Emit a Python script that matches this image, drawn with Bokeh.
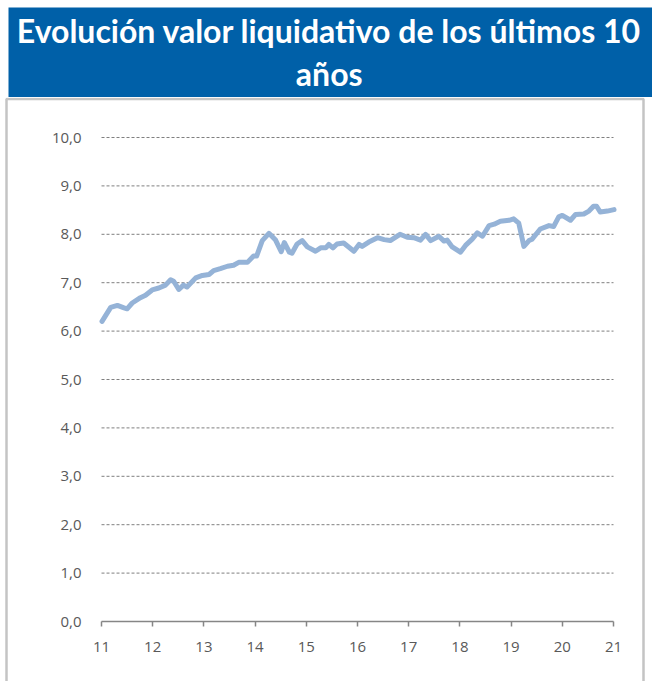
from bokeh.plotting import figure
from bokeh.layouts import column
from bokeh.models import FixedTicker, Range1d, BoxAnnotation
from bokeh.core.properties import value
from bokeh.embed import file_html
from bokeh.resources import INLINE

title_lines = ["Evolución valor liquidativo de los últimos 10", "años"]

years = [11.01, 11.18, 11.31, 11.44, 11.50, 11.60, 11.76, 11.86, 11.99, 12.12,
         12.25, 12.35, 12.41, 12.51, 12.60, 12.67, 12.84, 12.97, 13.10, 13.19,
         13.32, 13.46, 13.58, 13.68, 13.85, 13.97, 14.03, 14.14, 14.27, 14.40,
         14.51, 14.57, 14.67, 14.72, 14.82, 14.92, 15.02, 15.18, 15.28, 15.38,
         15.44, 15.52, 15.60, 15.73, 15.93, 16.03, 16.09, 16.22, 16.39, 16.52,
         16.64, 16.83, 16.97, 17.10, 17.23, 17.33, 17.43, 17.59, 17.69, 17.75,
         17.85, 18.01, 18.11, 18.24, 18.34, 18.44, 18.57, 18.67, 18.79, 18.96,
         19.05, 19.15, 19.25, 19.35, 19.41, 19.57, 19.74, 19.83, 19.93, 20.00,
         20.16, 20.26, 20.42, 20.52, 20.61, 20.67, 20.74, 20.88, 21.01]
values = [6.20, 6.49, 6.53, 6.48, 6.46, 6.58, 6.69, 6.74, 6.85, 6.89,
          6.95, 7.06, 7.03, 6.86, 6.95, 6.91, 7.10, 7.15, 7.17, 7.25,
          7.29, 7.34, 7.36, 7.42, 7.42, 7.55, 7.55, 7.87, 8.02, 7.88,
          7.64, 7.83, 7.63, 7.61, 7.80, 7.87, 7.74, 7.65, 7.72, 7.72,
          7.79, 7.72, 7.80, 7.82, 7.65, 7.79, 7.75, 7.84, 7.93, 7.89,
          7.87, 8.00, 7.94, 7.93, 7.88, 8.00, 7.87, 7.96, 7.86, 7.88,
          7.74, 7.63, 7.77, 7.90, 8.03, 7.96, 8.18, 8.21, 8.27, 8.29,
          8.32, 8.23, 7.75, 7.87, 7.90, 8.11, 8.18, 8.16, 8.36, 8.39,
          8.29, 8.41, 8.42, 8.48, 8.58, 8.58, 8.46, 8.48, 8.51]

x_ticks = [11, 12, 13, 14, 15, 16, 17, 18, 19, 20, 21]
y_ticks = [0, 1, 2, 3, 4, 5, 6, 7, 8, 9, 10]
y_labels = ["0,0", "1,0", "2,0", "3,0", "4,0", "5,0", "6,0", "7,0", "8,0", "9,0", "10,0"]

BLUE = "#0060A8"
TXT = "#595959"
W = 652
TH = 97
CH = 584

# Title band
t = figure(width=W, height=TH, output_backend="svg", toolbar_location=None,
           x_range=Range1d(0, 1), y_range=Range1d(0, 1),
           min_border_left=8, min_border_right=0,
           min_border_top=7, min_border_bottom=0)
t.frame_align = False
t.axis.visible = False
t.grid.visible = False
t.outline_line_color = None
t.background_fill_color = BLUE
t.border_fill_color = "white"
t.text(x=[0.498, 0.498], y=[0.745, 0.265], text=title_lines,
       text_color="white", text_font=value("Lato"), text_font_style="bold",
       text_font_size="32px", text_align="center", text_baseline="middle")

# Chart: frame fills the whole canvas, axes pinned at data locations
px_per_year = 51.2
px_per_unit = 48.4
x0_px, y10_px = 101, 40
p = figure(width=W, height=CH, output_backend="svg", toolbar_location=None,
           x_range=Range1d(x_ticks[0] - x0_px / px_per_year,
                           x_ticks[-1] + (W - x0_px - 10 * px_per_year) / px_per_year),
           y_range=Range1d(y_ticks[0] - (CH - y10_px - 10 * px_per_unit) / px_per_unit,
                           y_ticks[-1] + y10_px / px_per_unit),
           min_border=0, min_border_left=0, min_border_right=0,
           min_border_top=0, min_border_bottom=0)
p.frame_align = False
p.outline_line_color = None
p.background_fill_color = "white"
p.border_fill_color = "white"
p.grid.visible = False

# outer grey box
box = BoxAnnotation(left=6, right=643, top=CH - 1.5, bottom=-20,
                    left_units="screen", right_units="screen",
                    top_units="screen", bottom_units="screen",
                    fill_alpha=0, line_color="#C4C4C4", line_alpha=1.0,
                    line_width=2.5)
p.add_layout(box)

# dashed horizontal gridlines at the y ticks
gy = y_ticks[1:]
p.segment(x0=[x_ticks[0]] * len(gy), x1=[x_ticks[-1]] * len(gy), y0=gy, y1=gy,
          line_color="#7F7F7F", line_width=1, line_dash="3 2")

p.line(years, values, line_color="#95B3D7", line_width=5, line_join="round", line_cap="round")

p.xaxis.fixed_location = y_ticks[0]
p.yaxis.fixed_location = x_ticks[0]
p.xaxis.bounds = (x_ticks[0], x_ticks[-1])
p.yaxis.bounds = (y_ticks[0], y_ticks[-1])
p.xaxis.ticker = FixedTicker(ticks=x_ticks)
p.yaxis.ticker = FixedTicker(ticks=y_ticks)
p.yaxis.major_label_overrides = {t_: l for t_, l in zip(y_ticks, y_labels)}
p.xaxis.major_label_overrides = {t_: str(t_) for t_ in x_ticks}

for ax in (p.xaxis[0], p.yaxis[0]):
    ax.major_label_text_font = "Open Sans"
    ax.major_label_text_font_size = "15px"
    ax.major_label_text_color = TXT
    ax.minor_tick_line_color = None

p.yaxis.axis_line_color = None
p.yaxis.major_tick_line_color = None
p.yaxis.major_tick_in = 0
p.yaxis.major_tick_out = 0
p.yaxis.major_label_standoff = 20

p.xaxis.axis_line_color = "#868686"
p.xaxis.axis_line_width = 1.5
p.xaxis.major_tick_line_color = "#868686"
p.xaxis.major_tick_line_width = 1.5
p.xaxis.major_tick_in = 0
p.xaxis.major_tick_out = 5
p.xaxis.major_label_standoff = 15

layout = column(t, p, spacing=0)
open("out.html", "w").write(file_html(layout, INLINE))
